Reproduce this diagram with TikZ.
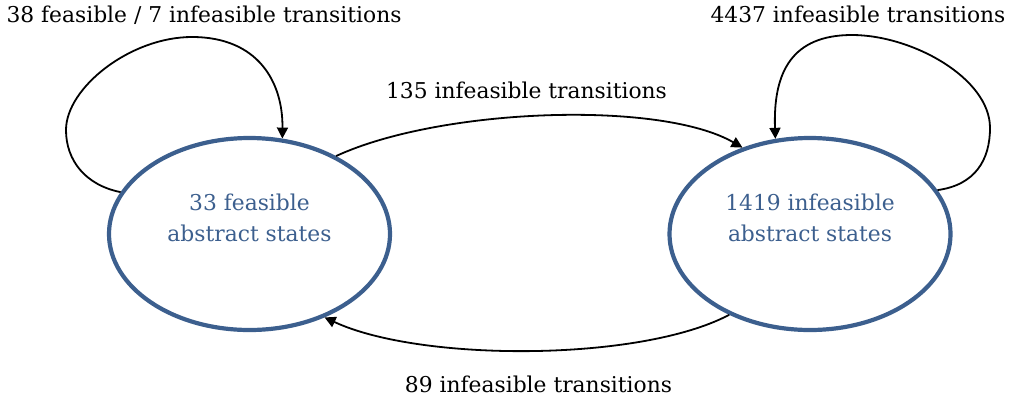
\documentclass[tikz,border=0pt]{standalone}
\usepackage{fontspec}
\setmainfont{DejaVu Serif}
\usetikzlibrary{shapes.geometric,arrows.meta}
\definecolor{stateblue}{HTML}{3C5F8E}
\tikzset{
  state/.style={ellipse, draw=stateblue, line width=4.2pt, minimum width=281pt,
    minimum height=192pt, inner sep=0pt},
  statetext/.style={text=stateblue, align=center, inner sep=0pt,
    font=\fontsize{21.8}{31}\selectfont},
  trans/.style={draw=black, line width=1.8pt, -{Triangle[length=11pt,width=11pt]}},
  lbl/.style={font=\fontsize{21.8}{26}\selectfont, inner sep=0pt, anchor=base}
}
\begin{document}
\begin{tikzpicture}[x=1pt,y=-1pt]
\useasboundingbox (0,0) rectangle (1011,402);
\node[state] (L) at (249.5,234) {};
\node[state] (R) at (810,234) {};
\node[statetext] (Lt) at (249.5,218) {33 feasible\\abstract states};
\node[statetext] (Rt) at (810,218) {1419 infeasible\\abstract states};

% self loop on the feasible states
\draw[trans] (L.162) .. controls (85,185) and (66,160) .. (66,130)
  .. controls (66,88) and (130,37) .. (192,37)
  .. controls (258,37) and (283,82) .. (L.71);
% self loop on the infeasible states
\draw[trans] (R.19) .. controls (975,185) and (990,160) .. (990,128)
  .. controls (990,78) and (912,35) .. (852,35)
  .. controls (792,35) and (773,72) .. (R.110);
% between the two states
\draw[trans] (L.42) .. controls (440,108) and (660,100) .. (R.128);
\draw[trans] (R.225) .. controls (640,362) and (420,362) .. (L.312);

\node[lbl] (t1) at (204,22) {38 feasible / 7 infeasible transitions};
\node[lbl] (t2) at (858,22) {4437 infeasible transitions};
\node[lbl] (t3) at (526.5,98) {135 infeasible transitions};
\node[lbl] (t4) at (538.5,392) {89 infeasible transitions};
\end{tikzpicture}
\end{document}
